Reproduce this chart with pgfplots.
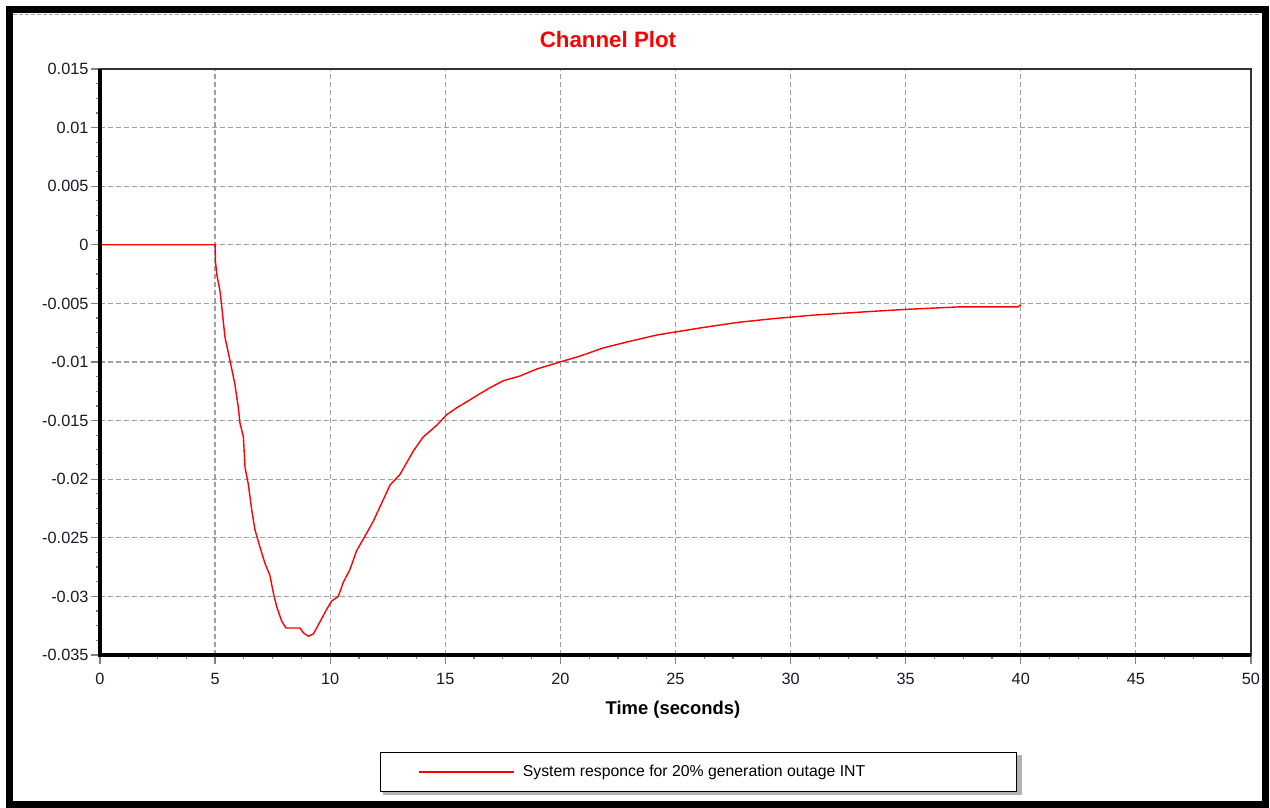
\documentclass[border=0pt]{standalone}
\usepackage{fontspec}
\setmainfont{Liberation Sans}
\usepackage{pgfplots}
\pgfplotsset{compat=1.18}
\definecolor{ticklab}{HTML}{1A1A2A}
\begin{document}
\begin{tikzpicture}
\path[use as bounding box] (0pt,0pt) rectangle (1270pt,808pt);
\fill[white] (0pt,0pt) rectangle (1270pt,808pt);
\draw[line width=7pt] (9pt,3.5pt) rectangle (1265pt,798.5pt);
\draw[gray!70, line width=1pt, dash pattern=on 4pt off 2pt] (13pt,793.5pt) -- (1261pt,793.5pt);
% legend shadow
\fill[gray!60] (383pt,13pt) rectangle (1021.5pt,53pt);
\begin{axis}[
  at={(100pt,153pt)}, anchor=south west,
  scale only axis, width=1151pt, height=586pt,
  xmin=0, xmax=50, ymin=-0.035, ymax=0.015,
  xtick={0,5,...,50},
  ytick={-0.035,-0.03,-0.025,-0.02,-0.015,-0.01,-0.005,0,0.005,0.01,0.015},
  yticklabels={-0.035,-0.03,-0.025,-0.02,-0.015,-0.01,-0.005,0,0.005,0.01,0.015},
  /pgf/number format/assume math mode=true,
  scaled y ticks=false,
  minor x tick num=3, minor y tick num=3,
  xtick pos=bottom, ytick pos=left,
  tick align=outside,
  major tick length=9pt, minor tick length=4pt,
  every tick/.style={gray, line width=1.2pt},
  axis line style={gray!40!black, line width=1.3pt},
  grid=major,
  major grid style={gray!75, line width=1.2pt, dash pattern=on 5pt off 3pt},
  tick label style={font=\fontsize{16.3}{19}\selectfont, text=ticklab},
  xticklabel style={yshift=-6pt},
  yticklabel style={xshift=1pt},
  legend style={at={(0.2433,-0.2338)}, anchor=south west,
    draw=black, line width=1.2pt, fill=white,
    inner xsep=38pt, inner ysep=11pt,
    font=\fontsize{15.8}{18}\selectfont},
  legend image code/.code={\draw[red, line width=1.2pt] (0pt,0pt) -- (95pt,0pt);},
  clip=false,
]
\addplot[red, line width=1.4pt, line join=miter] coordinates {
(0,0) (5.00,0) (5.02,-0.0015) (5.08,-0.0026) (5.21,-0.0039) (5.29,-0.0053)
(5.43,-0.0079) (5.65,-0.0099) (5.86,-0.0119) (6.01,-0.0139) (6.08,-0.0152)
(6.23,-0.0164) (6.30,-0.0190) (6.44,-0.0204) (6.59,-0.0226) (6.73,-0.0243)
(6.95,-0.0258) (7.17,-0.0272) (7.38,-0.0282) (7.53,-0.0297) (7.68,-0.0309)
(7.89,-0.0321) (8.08,-0.0327) (8.69,-0.0327) (8.83,-0.0331) (9.05,-0.0334)
(9.27,-0.0332) (9.41,-0.0327) (9.63,-0.0319) (9.85,-0.0311) (10.06,-0.0304)
(10.35,-0.0300) (10.57,-0.0288) (10.86,-0.0277) (11.15,-0.0261) (11.44,-0.0251)
(11.87,-0.0236) (12.20,-0.0222) (12.60,-0.0205) (13.03,-0.0196) (13.61,-0.0176)
(14.04,-0.0164) (14.63,-0.0154) (15.06,-0.0145) (15.50,-0.0139) (15.93,-0.0134)
(16.51,-0.0127) (16.94,-0.0122) (17.52,-0.0116) (18.24,-0.0112) (18.97,-0.0106)
(19.98,-0.0100) (20.85,-0.0095) (21.86,-0.0088) (22.88,-0.0083) (24.18,-0.0077)
(25.12,-0.0074) (26.06,-0.0071) (27.08,-0.0068) (27.80,-0.0066) (29.25,-0.0063)
(30.99,-0.0060) (33.38,-0.0057) (35.11,-0.0055) (37.29,-0.0053) (39.89,-0.0053)
(40.0,-0.0051)
};
\addlegendentry{\hspace*{6pt}System responce for 20\% generation outage INT\rule{111pt}{0pt}}
\draw[black, line width=4.5pt] (rel axis cs:0,1) -- (rel axis cs:0,0) -- (rel axis cs:1,0);
\end{axis}
\node[red, font=\fontsize{22.3}{26}\selectfont\bfseries] at (608pt,768pt) {Channel Plot};
\node[black, font=\fontsize{18.4}{22}\selectfont\bfseries] at (673pt,98pt) {Time (seconds)};
\end{tikzpicture}
\end{document}
